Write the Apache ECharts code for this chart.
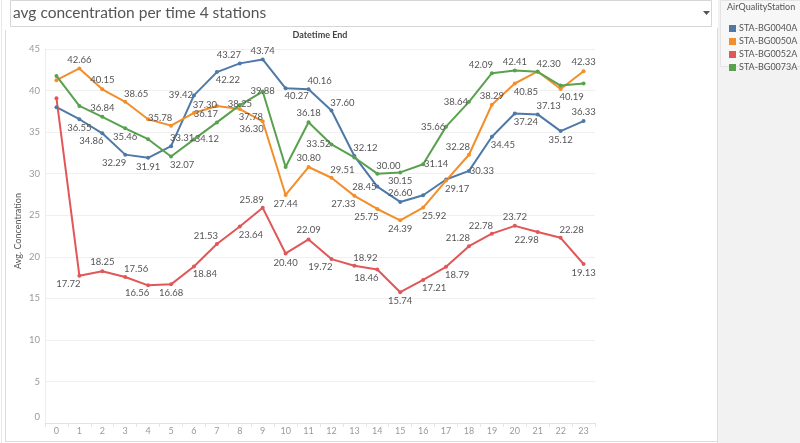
<!DOCTYPE html>
<html>
<head>
<meta charset="utf-8">
<script src="https://cdn.jsdelivr.net/npm/echarts@6/dist/echarts.min.js"></script>
<style>html,body{margin:0;padding:0;background:#fff}#c{width:800px;height:443px}</style>
</head>
<body>
<div id="c"></div>
<script>
const hours = ['0','1','2','3','4','5','6','7','8','9','10','11','12','13','14','15','16','17','18','19','20','21','22','23'];
const stationNames = ['STA-BG0040A','STA-BG0050A','STA-BG0052A','STA-BG0073A'];
const sta0040 = [38.0, 36.55, 34.86, 32.29, 31.91, 33.31, 39.42, 42.22, 43.27, 43.74, 40.27, 40.16, 37.60, 32.12, 28.45, 26.60, 27.4, 29.3, 30.33, 34.45, 37.24, 37.13, 35.12, 36.33];
const sta0050 = [41.25, 42.66, 40.15, 38.65, 36.55, 35.78, 37.30, 38.15, 37.78, 36.30, 27.44, 30.80, 29.51, 27.33, 25.75, 24.39, 25.92, 29.17, 32.28, 38.29, 40.85, 42.30, 40.19, 42.33];
const sta0052 = [39.08, 17.72, 18.25, 17.56, 16.56, 16.68, 18.84, 21.53, 23.64, 25.89, 20.40, 22.09, 19.72, 18.92, 18.46, 15.74, 17.21, 18.79, 21.28, 22.78, 23.72, 22.98, 22.28, 19.13];
const sta0073 = [41.76, 38.15, 36.84, 35.46, 34.15, 32.07, 34.12, 36.17, 38.25, 39.88, 30.80, 36.18, 33.52, 31.95, 30.00, 30.15, 31.14, 35.66, 38.64, 42.09, 42.41, 42.25, 40.60, 40.85];
const yTicks = [0, 45, 5];

// label placement codes (style, not data)
const place0040 = ['', 'b','bl','bl','b','tr','l','br','tl','t','br','tr','tr','tr','l','t','','','r','br','br','tr','b','t'];
const place0050 = ['', 't','t','tr','','tl','tr','','br','bl','b','t','tr','bl','bl','b','br','br','tl','t','br','tr','br','t'];
const place0052 = ['', 'bl','t','tr','bl','b','br','tl','br','tl','b','t','bl','tr','bl','b','br','br','tl','tl','t','bl','tr','b'];
const place0073 = ['', '', 't','b','','br','r','tl','c','c','','t','l','','tr','b','r','l','l','tl','t','','',''];

const OFF = {t:[0,-9], b:[0,9], l:[-13,0], r:[13,0], tr:[11,-8], tl:[-11,-8], br:[11,8], bl:[-11,8], c:[0,-1]};
const colors = ['#4e79a7','#f28e2b','#e15759','#59a14f'];
const FONT = 'Lato';

function build(vals, places) {
  return vals.map((v, i) => {
    const p = places[i];
    return p ? {value: v, label: {show: true, offset: OFF[p]}} : {value: v};
  });
}
const allVals = [sta0040, sta0050, sta0052, sta0073];
const allPlaces = [place0040, place0050, place0052, place0073];

const chart = echarts.init(document.getElementById('c'), null, {renderer: 'canvas'});
chart.setOption({
  animation: false,
  backgroundColor: '#ffffff',
  color: colors,
  textStyle: {fontFamily: FONT},
  grid: {left: 45, right: 205, top: 49, bottom: 20, containLabel: false},
  legend: {
    orient: 'vertical', left: 724, top: 19, icon: 'rect', itemWidth: 7, itemHeight: 7,
    itemGap: 4, selectedMode: false,
    textStyle: {fontFamily: FONT, fontSize: 9, color: '#555', padding: [0,0,0,-2]},
    data: stationNames
  },
  xAxis: {
    type: 'category', data: hours, boundaryGap: true,
    axisLine: {show: true, lineStyle: {color: '#e2e2e2', width: 1}},
    axisTick: {show: true, interval: 0, length: 4, lineStyle: {color: '#e6e6e6'}},
    axisLabel: {color: '#9a9a9a', fontSize: 9, fontFamily: FONT, margin: 4},
    splitLine: {show: false}
  },
  yAxis: {
    type: 'value', min: yTicks[0], max: yTicks[1], interval: yTicks[2],
    axisLine: {show: true, lineStyle: {color: '#ececec'}},
    axisTick: {show: false},
    axisLabel: {color: '#9a9a9a', fontSize: 9.5, fontFamily: FONT, margin: 5,
      formatter: v => v === 0 ? '{z|0}' : String(v),
      rich: {z: {color: '#9a9a9a', fontSize: 9.5, fontFamily: FONT, padding: [0,0,12,0]}}},
    splitLine: {lineStyle: {color: '#f0f0f0', width: 1}}
  },
  series: stationNames.map((n, k) => ({
    name: n, type: 'line', data: build(allVals[k], allPlaces[k]),
    symbol: 'circle', symbolSize: 4, showSymbol: true,
    lineStyle: {width: 2, color: colors[k]},
    itemStyle: {color: colors[k]},
    label: {show: false, position: 'inside', color: '#555', fontSize: 9.5, fontFamily: FONT,
      formatter: p => p.value.toFixed(2)},
    emphasis: {disabled: true},
    z: 2
  })),
  graphic: [
    {type: 'rect', z: -10, shape: {x: 718, y: 0, width: 82, height: 443}, style: {fill: '#f2f2f2'}, silent: true},
    {type: 'rect', z: -9, shape: {x: 720.5, y: 0.5, width: 80, height: 66}, style: {fill: '#f7f7f7', stroke: '#e4e4e4', lineWidth: 1}, silent: true},
    {type: 'text', left: 727, top: 3, style: {text: 'AirQualityStation', font: '9px ' + FONT, fill: '#555'}},
    {type: 'line', shape: {x1: 717.5, y1: 28, x2: 717.5, y2: 443}, style: {stroke: '#dcdcdc', lineWidth: 1}, silent: true},
    {type: 'line', shape: {x1: 5.5, y1: 30, x2: 5.5, y2: 442}, style: {stroke: '#dcdcdc', lineWidth: 1}, silent: true},
    {type: 'line', shape: {x1: 1.5, y1: 0, x2: 1.5, y2: 443}, style: {stroke: '#e8e8e8', lineWidth: 1}, silent: true},
    {type: 'line', shape: {x1: 5, y1: 441.5, x2: 718, y2: 441.5}, style: {stroke: '#dcdcdc', lineWidth: 1}, silent: true},
    {type: 'rect', shape: {x: 10.5, y: 0.5, width: 701, height: 26}, style: {fill: '#fff', stroke: '#d6d6d6', lineWidth: 1}, silent: true},
    {type: 'text', left: 13, top: 5, style: {text: 'avg concentration per time 4 stations', font: '15.5px ' + FONT, fill: '#555'}},
    {type: 'polygon', shape: {points: [[703,11],[710,11],[706.5,15]]}, style: {fill: '#555'}, silent: true},
    {type: 'text', x: 320, y: 35, style: {text: 'Datetime End', font: 'bold 9px ' + FONT, fill: '#444', align: 'center', verticalAlign: 'middle'}},
    {type: 'text', x: 18, y: 231, rotation: Math.PI / 2, style: {text: 'Avg. Concentration', font: '9px ' + FONT, fill: '#555', align: 'center', verticalAlign: 'middle'}}
  ]
});
</script>
</body>
</html>
